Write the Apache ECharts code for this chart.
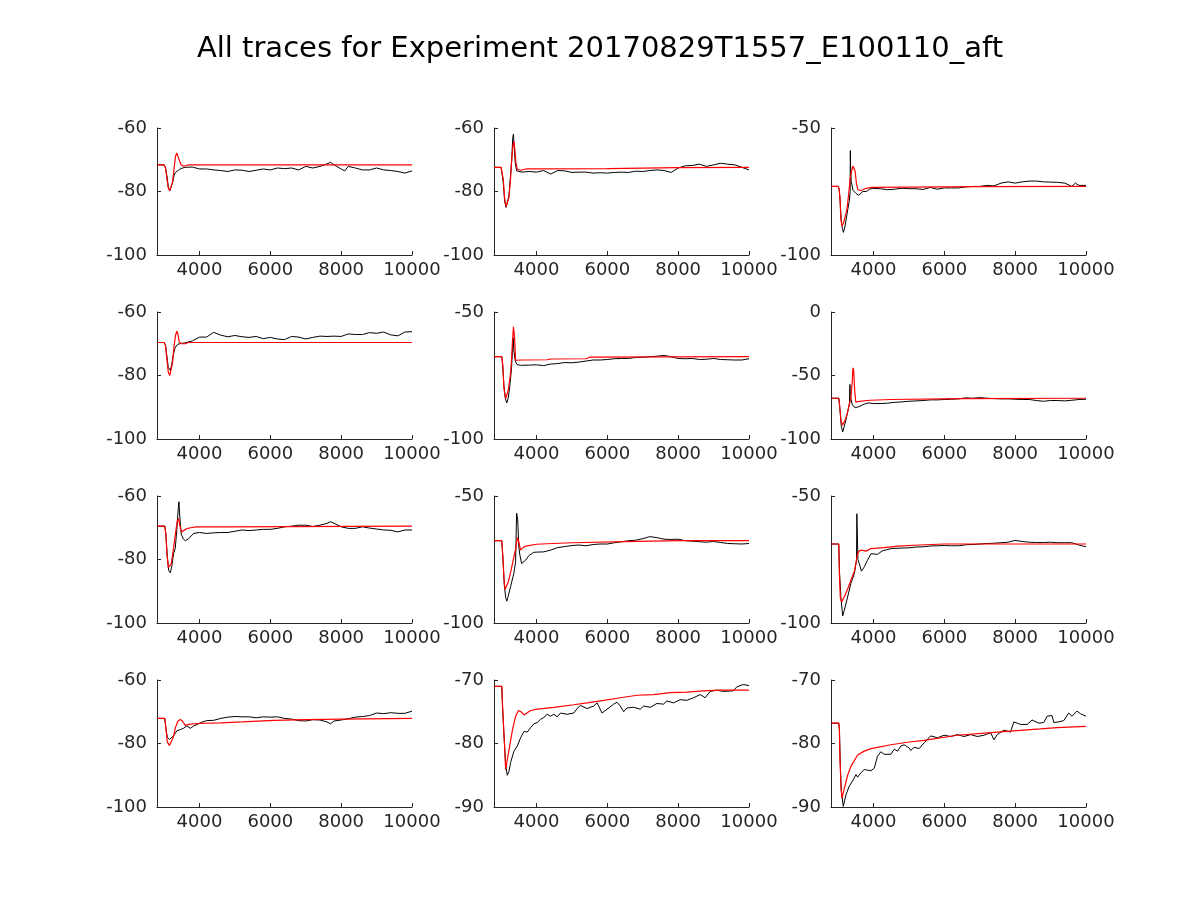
<!DOCTYPE html>
<html><head><meta charset="utf-8">
<script src="https://cdn.jsdelivr.net/npm/echarts@6/dist/echarts.min.js"></script>
<style>html,body{margin:0;padding:0;background:#fff}#c{width:1200px;height:900px}</style>
</head><body><div id="c"></div>
<script>
const titleText = 'All traces for Experiment 20170829T1557_E100110_aft';
const xTicks = [4000, 6000, 8000, 10000];
const yMin = [-100,-100,-100, -100,-100,-100, -100,-100,-100, -100,-90,-90];
const yMax = [-60,-60,-50, -60,-50,0, -60,-50,-50, -60,-70,-70];
const yStep = [20,20,50, 20,50,50, 20,50,50, 20,10,10];

const black1 = [[2800,-71.6],[3000,-71.6],[3040,-72.5],[3080,-75],[3120,-78.5],[3160,-79.8],[3200,-79.3],[3240,-77.2],[3280,-75],[3320,-74],[3360,-73.4],[3440,-73],[3520,-72.6],[3600,-72.4],[3800,-72.3],[4000,-72.9],[4200,-72.9],[4400,-73.2],[4600,-73.4],[4800,-73.7],[5000,-73.2],[5200,-73.3],[5400,-73.7],[5600,-73.3],[5800,-72.9],[6000,-73.2],[6200,-72.6],[6400,-72.8],[6600,-72.6],[6800,-73.2],[7000,-72.1],[7200,-72.6],[7400,-72.1],[7600,-71.3],[7700,-70.8],[7800,-71.6],[8000,-72.9],[8100,-73.5],[8200,-72.1],[8400,-72.6],[8600,-73.2],[8800,-73.2],[9000,-72.6],[9200,-73.2],[9400,-73.4],[9600,-73.7],[9800,-74.2],[10000,-73.5]];
const red1 = [[2800,-71.6],[3000,-71.6],[3040,-72.5],[3080,-76],[3120,-79],[3160,-79.8],[3200,-79.5],[3240,-77],[3280,-73],[3320,-69],[3360,-67.9],[3400,-68.5],[3440,-70.5],[3480,-71.6],[3540,-72],[3600,-71.9],[3700,-71.6],[10000,-71.6]];

const black2 = [[2800,-72.4],[3000,-72.4],[3040,-73],[3060,-77],[3100,-83],[3140,-85],[3180,-84.5],[3220,-81.5],[3260,-76],[3300,-70],[3330,-63],[3350,-61.9],[3370,-66],[3400,-71],[3440,-73.5],[3480,-74],[3600,-73.9],[3800,-73.7],[4000,-73.9],[4200,-73.4],[4400,-74.5],[4600,-73.4],[4800,-73.5],[5000,-74],[5200,-73.9],[5400,-73.9],[5600,-74.2],[5800,-74.1],[6000,-74.2],[6200,-74],[6400,-73.9],[6600,-74],[6800,-73.6],[7000,-73.7],[7200,-73.4],[7400,-73.2],[7600,-73.4],[7800,-74],[8000,-72.6],[8200,-71.9],[8400,-71.8],[8600,-71.4],[8800,-72.1],[9000,-71.6],[9200,-71.1],[9400,-71.4],[9600,-71.6],[9800,-72.4],[10000,-73.2]];
const red2 = [[2800,-72.4],[3000,-72.4],[3040,-73],[3060,-76],[3100,-82],[3140,-84.8],[3180,-84.8],[3220,-82],[3260,-77],[3300,-70],[3330,-66],[3360,-64.2],[3390,-67],[3420,-71],[3460,-73],[3500,-73.6],[3560,-73.3],[3700,-72.9],[6000,-72.8],[8000,-72.5],[10000,-72.4]];

const black3 = [[2800,-73],[3000,-73],[3030,-74],[3055,-78],[3085,-86],[3120,-89.5],[3150,-91.1],[3190,-89],[3240,-85],[3280,-81.5],[3320,-78.5],[3340,-75],[3345,-58.9],[3355,-66],[3370,-71],[3420,-74.5],[3500,-75.7],[3580,-76.5],[3620,-76],[3700,-75],[3800,-75],[3900,-74],[4000,-73.8],[4200,-73.9],[4400,-74.3],[4600,-74.1],[4800,-73.7],[5000,-73.9],[5200,-73.9],[5400,-74.2],[5600,-73.4],[5800,-74.1],[6000,-73.6],[6200,-73.6],[6400,-73.6],[6600,-73.2],[6800,-73],[7000,-73],[7200,-72.6],[7400,-72.8],[7600,-71.7],[7800,-71.2],[8000,-71.7],[8200,-71.2],[8400,-70.9],[8600,-70.9],[8800,-71.2],[9000,-71.3],[9200,-71.4],[9400,-71.7],[9600,-73],[9700,-71.7],[9800,-72.6],[10000,-72.6]];
const red3 = [[2800,-73],[3000,-73],[3030,-74],[3055,-78],[3080,-86],[3110,-88.6],[3150,-87.5],[3200,-85],[3250,-82],[3300,-76],[3340,-70],[3380,-67],[3420,-65],[3450,-64.5],[3480,-67],[3520,-72],[3560,-74.3],[3650,-74.6],[3780,-73.8],[3950,-73.4],[5000,-73.3],[7000,-73.1],[10000,-73]];

const black4 = [[2800,-69.6],[3000,-69.6],[3040,-70.5],[3080,-74],[3120,-77.5],[3170,-78.3],[3210,-77],[3260,-73.5],[3310,-71.3],[3380,-70.2],[3480,-69.9],[3600,-69.7],[3800,-69.1],[4000,-67.9],[4200,-67.9],[4400,-66.4],[4600,-67.3],[4800,-67.8],[5000,-67.4],[5200,-67.8],[5400,-68],[5600,-67.7],[5800,-68.4],[6000,-68],[6200,-68.5],[6400,-68.7],[6600,-67.7],[6800,-67.9],[7000,-68.5],[7200,-68],[7400,-67.6],[7600,-67.7],[7800,-67.6],[8000,-67.7],[8200,-66.9],[8400,-67.1],[8600,-67.1],[8800,-66.5],[9000,-66.7],[9200,-66.3],[9400,-67.2],[9600,-67.5],[9800,-66.3],[10000,-66.2]];
const red4 = [[2800,-69.6],[3000,-69.6],[3040,-70.5],[3080,-75],[3120,-79],[3160,-80],[3200,-79.5],[3240,-76],[3280,-71],[3320,-67.5],[3360,-66],[3390,-67],[3430,-69.5],[3500,-70],[3600,-70],[3680,-69.6],[10000,-69.6]];

const black5 = [[2800,-67.6],[3020,-67.6],[3050,-72],[3080,-79],[3120,-84],[3160,-85.8],[3200,-84],[3240,-80],[3290,-73],[3320,-66],[3340,-60.1],[3360,-65],[3400,-69.3],[3450,-70.7],[3550,-71],[3600,-70.9],[3800,-70.9],[4000,-70.8],[4200,-71.1],[4400,-70.5],[4600,-70.3],[4800,-69.9],[5000,-70],[5200,-69.7],[5400,-69.3],[5600,-68.9],[5800,-68.9],[6000,-68.7],[6200,-68.4],[6400,-68.3],[6600,-68.3],[6800,-67.9],[7000,-67.8],[7200,-67.6],[7400,-67.4],[7600,-67.1],[7800,-67.6],[8000,-68.3],[8200,-68.4],[8400,-68.3],[8600,-68.7],[8800,-68.6],[9000,-68.3],[9200,-68.7],[9400,-68.8],[9600,-68.9],[9800,-68.9],[10000,-68.4]];
const red5 = [[2800,-67.6],[3020,-67.6],[3050,-71],[3080,-80],[3130,-84.1],[3160,-83.5],[3200,-81],[3260,-75],[3290,-70],[3320,-62],[3350,-55.8],[3380,-60],[3410,-69],[3450,-69.2],[3600,-68.9],[4300,-68.8],[4400,-68.5],[5400,-68.4],[5500,-67.8],[10000,-67.6]];

const black6 = [[2800,-67.9],[3020,-67.9],[3050,-76],[3090,-90],[3130,-94.5],[3170,-93],[3220,-85],[3290,-76],[3320,-72],[3335,-57],[3345,-66],[3400,-73],[3460,-75],[3550,-75],[3650,-73.7],[3750,-72.4],[3850,-71.6],[4000,-72.1],[4200,-72.1],[4400,-71.8],[4600,-71.1],[4800,-70.8],[5000,-70.3],[5200,-70],[5400,-69.7],[5600,-69.2],[5800,-69.2],[6000,-68.9],[6200,-68.7],[6400,-68.4],[6600,-67.6],[6800,-67.9],[7000,-67.4],[7200,-67.9],[7400,-68.2],[7600,-68.4],[7800,-68.4],[8000,-68.7],[8200,-68.9],[8400,-68.9],[8600,-69.7],[8800,-70.3],[9000,-69.7],[9200,-69.7],[9400,-70],[9600,-69.5],[9800,-68.9],[10000,-68.7]];
const red6 = [[2800,-67.9],[3020,-67.9],[3050,-75],[3080,-85],[3120,-89.2],[3160,-88],[3200,-85],[3260,-80],[3300,-75],[3360,-68],[3400,-55],[3420,-44],[3440,-46],[3470,-62],[3500,-71],[3600,-70.3],[3900,-69.5],[4500,-68.9],[6500,-68.2],[10000,-67.9]];

const black7 = [[2800,-69.5],[3020,-69.5],[3050,-72],[3090,-79],[3130,-83.5],[3175,-84.2],[3220,-82],[3270,-78],[3316,-76.5],[3360,-70.5],[3400,-64],[3420,-61.8],[3440,-66],[3485,-72],[3540,-73.5],[3600,-74.1],[3700,-73.4],[3830,-71.8],[4000,-71.5],[4200,-71.8],[4400,-71.6],[4600,-71.5],[4800,-71.5],[5000,-71.1],[5200,-70.7],[5400,-70.9],[5600,-70.7],[5800,-70.5],[6000,-70.5],[6200,-70.2],[6400,-69.7],[6600,-69.5],[6800,-69.2],[7000,-69.2],[7200,-69.6],[7400,-69.2],[7600,-68.6],[7700,-68.1],[7800,-68.6],[8000,-69.7],[8200,-70.2],[8400,-70.2],[8600,-69.7],[8800,-70.1],[9000,-70.4],[9200,-70.7],[9400,-70.8],[9600,-71.3],[9800,-70.7],[10000,-70.7]];
const red7 = [[2800,-69.5],[3020,-69.5],[3050,-72],[3080,-78],[3120,-82.5],[3160,-83],[3200,-81.5],[3260,-77],[3320,-72],[3370,-68],[3410,-67.1],[3450,-69.5],[3490,-71.3],[3540,-71],[3640,-70.3],[3750,-70],[3900,-69.7],[4800,-69.7],[4850,-69.5],[10000,-69.5]];

const black8 = [[2800,-67.6],[3020,-67.6],[3050,-74],[3090,-85],[3130,-90],[3160,-91.4],[3200,-89.5],[3270,-85.6],[3360,-80.5],[3410,-75.9],[3430,-62],[3440,-56.8],[3470,-59.4],[3500,-70],[3530,-73.2],[3580,-76.6],[3690,-75.3],[3790,-73.4],[3920,-72.2],[4000,-72.1],[4200,-72],[4400,-71.3],[4600,-70.3],[4800,-69.9],[5000,-69.5],[5200,-69.3],[5400,-69.6],[5600,-69.1],[5800,-68.9],[6000,-68.9],[6200,-68.4],[6400,-68],[6600,-67.6],[6800,-67.4],[7000,-66.8],[7200,-66],[7400,-66.4],[7600,-67],[7800,-67.1],[8000,-67],[8200,-67.6],[8400,-67.8],[8600,-68],[8800,-68.2],[9000,-67.9],[9200,-68.3],[9400,-68.7],[9600,-68.8],[9800,-68.9],[10000,-68.7]];
const red8 = [[2800,-67.6],[3020,-67.6],[3050,-74],[3080,-82],[3110,-86.8],[3150,-86.5],[3200,-84],[3270,-80],[3360,-74.2],[3410,-70.9],[3460,-66.4],[3490,-67.5],[3550,-71.3],[3640,-70],[3740,-69.6],[4000,-69],[4300,-68.8],[5000,-68.4],[6500,-68],[8000,-67.6],[10000,-67.6]];

const black9 = [[2800,-68.9],[3020,-68.9],[3040,-80],[3080,-90],[3130,-97.2],[3175,-95],[3270,-89.7],[3360,-84.5],[3460,-80.5],[3520,-75.3],[3530,-57],[3545,-56.6],[3560,-75],[3600,-76.7],[3660,-79.6],[3740,-77.9],[3830,-75.3],[3930,-72.7],[4110,-73],[4250,-71.6],[4500,-70.7],[4800,-70.5],[5000,-70.4],[5200,-70.1],[5400,-70],[5600,-69.7],[5800,-69.6],[6000,-69.5],[6200,-69.6],[6400,-69.6],[6600,-69.2],[6800,-69.1],[7000,-68.9],[7200,-68.7],[7400,-68.6],[7600,-68.4],[7800,-68.2],[8000,-67.5],[8200,-67.9],[8400,-68.2],[8600,-68.3],[8800,-68.3],[9000,-68.2],[9200,-68.4],[9400,-68.4],[9600,-68.4],[9800,-69.3],[10000,-70]];
const red9 = [[2800,-68.9],[3020,-68.9],[3035,-79.9],[3063,-90],[3100,-91.7],[3175,-89.7],[3270,-86.6],[3360,-83.3],[3460,-79.6],[3500,-76.7],[3550,-72.8],[3600,-71.6],[3660,-71.3],[3700,-72],[3790,-71.7],[3930,-70.7],[4300,-70.3],[4700,-69.7],[5300,-69.3],[6000,-68.9],[10000,-68.9]];

const black10 = [[2800,-72.1],[3020,-72.1],[3050,-75],[3090,-78],[3150,-78.7],[3200,-78.5],[3270,-77.6],[3360,-76],[3460,-75.6],[3550,-75.2],[3640,-74.5],[3740,-75.2],[3830,-74.5],[3930,-74],[4020,-73.5],[4200,-72.8],[4400,-72.7],[4600,-72.1],[4800,-71.7],[5000,-71.5],[5200,-71.6],[5400,-71.6],[5600,-71.9],[5800,-71.6],[6000,-71.7],[6200,-71.6],[6400,-72.1],[6600,-72.3],[6800,-72.8],[7000,-72.9],[7200,-72.5],[7400,-72.6],[7600,-73.2],[7700,-73.8],[7800,-72.9],[8000,-72.6],[8200,-72.2],[8400,-71.7],[8600,-71.5],[8800,-71.2],[9000,-70.4],[9200,-70.6],[9400,-70.3],[9600,-70.5],[9800,-70.5],[10000,-69.8]];
const red10 = [[2800,-72.1],[3020,-72.1],[3050,-75],[3090,-79.5],[3150,-80.6],[3200,-80.5],[3260,-78],[3320,-75],[3390,-73],[3460,-72.4],[3520,-73],[3600,-74.3],[3700,-74],[3920,-73.7],[4600,-73.5],[5200,-73.2],[6100,-72.7],[7000,-72.5],[8000,-72.3],[10000,-72.1]];

const black11 = [[2800,-71],[3020,-71],[3040,-74],[3080,-78.5],[3130,-83.5],[3175,-85],[3222,-84.4],[3269,-83],[3363,-81.2],[3457,-80.4],[3551,-79.1],[3645,-78.1],[3739,-78.2],[3833,-77.5],[3926,-76.9],[4020,-76.7],[4114,-76.2],[4208,-75.9],[4302,-75.4],[4396,-75.7],[4490,-75.4],[4584,-75.8],[4678,-75.2],[4865,-75.4],[5053,-75.2],[5147,-74.5],[5241,-74],[5428,-74.5],[5616,-74.1],[5710,-73.6],[5851,-75.2],[5992,-74.6],[6179,-73.8],[6273,-73.5],[6367,-74.1],[6461,-75],[6555,-74.4],[6743,-74.3],[6930,-74.6],[7024,-74.1],[7212,-74.3],[7400,-73.7],[7588,-73.8],[7682,-73.3],[7869,-73.6],[8057,-73.1],[8245,-73.2],[8432,-72.8],[8620,-72.3],[8761,-72.8],[8902,-71.8],[9089,-71.6],[9277,-71.8],[9559,-71.7],[9653,-71.1],[9840,-70.7],[10000,-70.9]];
const red11 = [[2800,-71],[3020,-71],[3040,-74],[3080,-78.3],[3130,-84.1],[3160,-84.1],[3220,-81.1],[3320,-77.9],[3410,-75.7],[3490,-74.8],[3560,-75],[3650,-75.5],[3700,-75.5],[3830,-74.8],[4020,-74.6],[4490,-74.3],[5050,-73.9],[5430,-73.6],[5900,-73.2],[6370,-72.8],[6840,-72.4],[7300,-72.3],[7780,-72],[8250,-71.9],[8710,-71.7],[9180,-71.6],[10000,-71.6]];

const black12 = [[2800,-76.8],[3020,-76.8],[3040,-78],[3060,-83],[3090,-87.5],[3147,-89.9],[3222,-88.1],[3316,-86.7],[3410,-85.9],[3504,-84.9],[3551,-85.3],[3645,-84.6],[3739,-84.1],[3833,-84.2],[3926,-84.3],[4020,-83.9],[4114,-82],[4208,-81.3],[4302,-81.7],[4490,-81.7],[4584,-80.9],[4678,-81.2],[4771,-80.4],[4865,-80.2],[5006,-80.7],[5053,-81.1],[5147,-80.6],[5288,-80.8],[5428,-79.9],[5616,-78.8],[5804,-79.1],[5992,-78.7],[6179,-78.9],[6367,-78.6],[6555,-78.9],[6743,-78.6],[6930,-78.9],[7118,-78.7],[7306,-78.3],[7400,-79.4],[7494,-78.6],[7682,-77.9],[7869,-78.2],[7963,-76.6],[8151,-77],[8338,-77],[8479,-76.3],[8667,-76.8],[8807,-76.7],[8902,-75.7],[9042,-75.6],[9089,-76.7],[9230,-76.6],[9371,-76.4],[9512,-75.2],[9606,-75.7],[9746,-74.9],[9840,-75.3],[10000,-75.7]];
const red12 = [[2800,-76.8],[3020,-76.8],[3035,-77.7],[3053,-82.3],[3082,-86.7],[3110,-88.6],[3175,-87.1],[3269,-85],[3363,-83.6],[3551,-81.8],[3739,-81.2],[3926,-80.8],[4114,-80.6],[4490,-80.2],[4960,-79.8],[5430,-79.5],[6370,-78.7],[7310,-78.3],[7960,-78],[8710,-77.7],[9180,-77.5],[10000,-77.3]];

const blacks = [black1,black2,black3,black4,black5,black6,black7,black8,black9,black10,black11,black12];
const reds = [red1,red2,red3,red4,red5,red6,red7,red8,red9,red10,red11,red12];

const FONT = 'DejaVu Sans';
const AX = '#262626';
const lefts = [157, 494, 831];
const tops = [128, 312, 496, 680];
const grids = [], xAxes = [], yAxes = [], series = [];
for (let i = 0; i < 12; i++) {
  const r = Math.floor(i / 3), c = i % 3;
  grids.push({left: lefts[c], top: tops[r], width: 255, height: 127});
  xAxes.push({
    type: 'value', gridIndex: i, min: 2800, max: 10000,
    axisLine: {show: true, onZero: false, lineStyle: {color: AX, width: 1}},
    axisTick: {show: true, inside: true, length: 4, lineStyle: {color: AX}, customValues: xTicks},
    axisLabel: {color: AX, fontSize: 18, fontFamily: FONT, margin: 6, customValues: xTicks,
      formatter: function (v) { return String(v); }},
    splitLine: {show: false}
  });
  yAxes.push({
    type: 'value', gridIndex: i, min: yMin[i], max: yMax[i], interval: yStep[i],
    axisLine: {show: true, onZero: false, lineStyle: {color: AX, width: 1}},
    axisTick: {show: true, inside: true, length: 4, lineStyle: {color: AX}},
    axisLabel: {color: AX, fontSize: 18, fontFamily: FONT, margin: 10,
      formatter: function (v) { return String(v); }},
    splitLine: {show: false}
  });
  series.push({type: 'line', xAxisIndex: i, yAxisIndex: i, data: blacks[i], showSymbol: false, symbol: 'none',
    lineStyle: {color: '#000000', width: 1}, z: 2});
  series.push({type: 'line', xAxisIndex: i, yAxisIndex: i, data: reds[i], showSymbol: false, symbol: 'none',
    lineStyle: {color: '#ff0000', width: 1.2}, z: 3});
}
const chart = echarts.init(document.getElementById('c'), null, {renderer: 'canvas'});
chart.setOption({
  backgroundColor: '#ffffff',
  animation: false,
  title: {text: titleText, left: 'center', top: 30,
    textStyle: {fontSize: 29, fontWeight: 'normal', color: '#000', fontFamily: FONT}},
  grid: grids, xAxis: xAxes, yAxis: yAxes, series: series
});
</script></body></html>
